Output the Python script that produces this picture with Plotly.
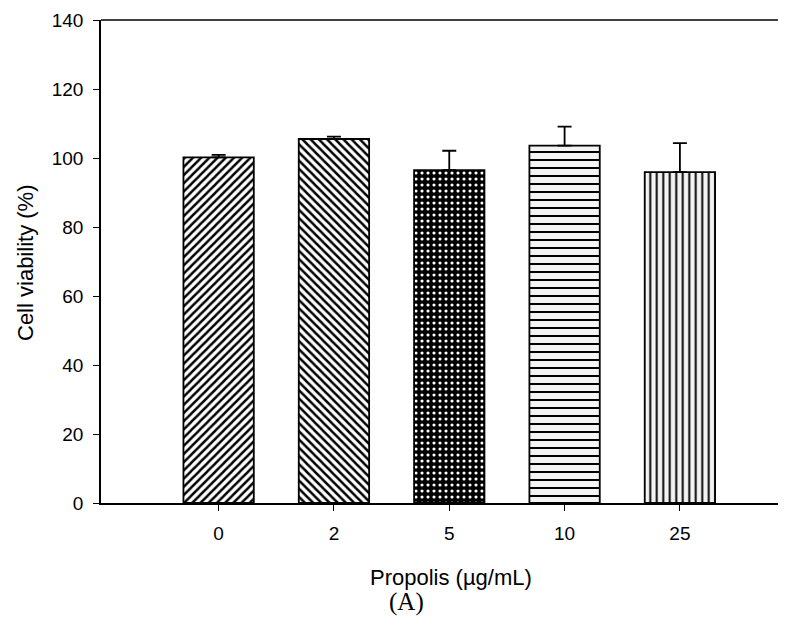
import plotly.graph_objects as go

doses = ["0", "2", "5", "10", "25"]
viability = [100.2, 105.5, 96.5, 103.6, 95.9]
error_up = [0.7, 0.7, 5.6, 5.5, 8.4]
y_ticks = [0, 20, 40, 60, 80, 100, 120, 140]

shapes = ["/", "\\", ".", "-", "|"]
sizes = [5.8, 5.8, 6, 8, 6.5]
solid = [0.42, 0.42, 0.22, 0.25, 0.3]
fg = ["black", "black", "white", "black", "black"]
bg = ["white", "white", "black", "#f3f3f3", "#f3f3f3"]

FONT = "Liberation Sans, Arial, sans-serif"

# plot area in page pixels (page has an 8px body margin)
L, R, T, B = 101, 786, 20, 503


def px(x):
    return (x - L) / (R - L)


def py(y):
    return (B - y) / (B - T)


fig = go.Figure(go.Bar(
    x=doses, y=viability, width=0.61,
    marker=dict(color="white", line=dict(color="black", width=1.8),
                pattern=dict(shape=shapes, size=sizes, solidity=solid,
                             fgcolor=fg, bgcolor=bg, fillmode="replace")),
    error_y=dict(type="data", symmetric=False, array=error_up,
                 arrayminus=[0] * len(doses), color="black", thickness=1.8, width=7),
))

fig.update_layout(
    width=778, height=622,
    margin=dict(l=L - 8, r=0, t=T - 8, b=630 - B, autoexpand=False),
    paper_bgcolor="white", plot_bgcolor="white",
    font=dict(family=FONT, size=19, color="black"),
    showlegend=False,
)
fig.update_xaxes(type="category", range=[-1.02, 4.92], showline=True, linecolor="black",
                 linewidth=1.6, mirror=False, ticks="outside", ticklen=6, tickwidth=1.3,
                 tickcolor="black", showgrid=False, zeroline=False,
                 tickfont=dict(size=19), ticklabelstandoff=6)
fig.update_yaxes(range=[0, 140], tickvals=y_ticks, showline=True, linecolor="black",
                 linewidth=1.6, mirror=False, ticks="outside", ticklen=6, tickwidth=1.3,
                 tickcolor="black", showgrid=False, zeroline=False,
                 tickfont=dict(size=19), ticklabelstandoff=6)

# top frame line running to the page edge
fig.add_shape(type="line", xref="paper", yref="paper", x0=0, x1=1.05, y0=1, y1=1,
              line=dict(color="black", width=1.6))

fig.add_annotation(text="Cell viability (%)", xref="paper", yref="paper",
                   x=px(26), y=py(263), xanchor="center", yanchor="middle", textangle=-90,
                   showarrow=False, font=dict(size=22, family=FONT))
fig.add_annotation(text="Propolis (µg/mL)", xref="paper", yref="paper",
                   x=px(451), y=py(577), xanchor="center", yanchor="middle",
                   showarrow=False, font=dict(size=22, family=FONT))
fig.add_annotation(text="(A)", xref="paper", yref="paper",
                   x=px(406), y=py(602), xanchor="center", yanchor="middle",
                   showarrow=False, font=dict(size=25, family="Liberation Serif, Times New Roman, serif"))

fig.write_html("out.html")
